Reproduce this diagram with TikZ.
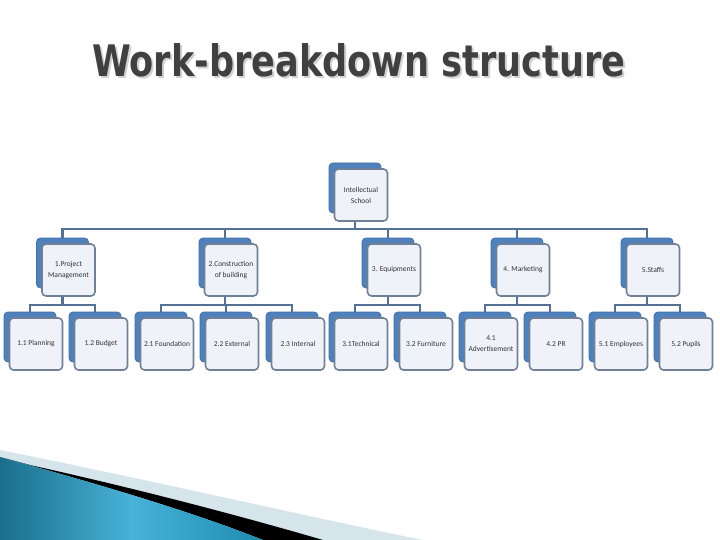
\documentclass[tikz,border=0pt]{standalone}
\usepackage{fontspec}
\setmainfont{Carlito}
\newfontfamily\titlefont{DejaVu Sans}
\usetikzlibrary{calc,backgrounds}
\definecolor{backblue}{RGB}{79,129,189}
\definecolor{backedge}{RGB}{66,110,166}
\definecolor{frontfill}{RGB}{239,243,249}
\definecolor{frontedge}{RGB}{112,128,150}
\definecolor{linkblue}{RGB}{84,112,150}
\definecolor{labelgray}{RGB}{50,50,50}
\definecolor{titlegray}{RGB}{64,64,64}
\definecolor{shadowgray}{RGB}{210,210,210}
\definecolor{stripe}{RGB}{214,228,236}
\definecolor{tealA}{RGB}{26,110,140}
\definecolor{tealB}{RGB}{72,178,216}
\definecolor{tealC}{RGB}{30,140,176}

\begin{document}
\begin{tikzpicture}[x=1pt, y=-1pt,
  back/.style={draw=backedge, fill=backblue, rounded corners=4pt, line width=0.8pt,
    minimum width=52pt, minimum height=50pt, inner sep=0pt},
  front/.style={draw=frontedge, fill=frontfill, rounded corners=4pt, line width=1.6pt,
    minimum width=53pt, minimum height=52pt, inner sep=1pt, align=center,
    text=labelgray, font=\fontsize{7.5}{11}\selectfont},
  conn/.style={draw=linkblue, line width=2.2pt}]
  \useasboundingbox (0,0) rectangle (720,540);

  % title with its shadow
  \node[anchor=base west, inner sep=0pt, text=shadowgray] (title-s) at (94,79)
    {\resizebox{533pt}{33pt}{\titlefont\bfseries Work-breakdown structure}};
  \node[anchor=base west, inner sep=0pt, text=titlegray] (title) at (92,77)
    {\resizebox{533pt}{33pt}{\titlefont\bfseries Work-breakdown structure}};

  % boxes: blue card behind, light card in front
  \foreach \n/\x/\y/\t in {
      top/355/188/{Intellectual\\School},
      pm/62.5/263/{1.Project\\Management}, cb/225/263/{2.Construction\\of building},
      eq/388/263/{3. Equipments}, mk/517/263/{4. Marketing}, st/647/263/{5.Staffs},
      pl/30/337/{1.1 Planning}, bu/95/337/{1.2 Budget},
      fo/161/337/{2.1 Foundation}, ex/226/337/{2.2 External}, in/292/337/{2.3 Internal},
      te/355/337/{3.1Technical}, fu/420/337/{3.2 Furniture},
      ad/485/337/{4.1\\Advertisement}, pr/550/337/{4.2 PR},
      em/615/337/{5.1 Employees}, pu/680/337/{5.2 Pupils}} {
    \node[back] (\n) at (\x,\y) {};
    \node[front] (\n-f) at (\x+6,\y+7) {\t};
  }

  \begin{scope}[on background layer]
    \coordinate (bus0) at (0,229);
    \coordinate (bus1) at (0,305);
    \foreach \c in {pm,cb,eq,mk,st}
      \draw[conn] (top.south) -- (top.south |- bus0) -| (\c.north);
    \foreach \p/\c in {pm/pl, pm/bu, cb/fo, cb/ex, cb/in, eq/te, eq/fu,
        mk/ad, mk/pr, st/em, st/pu}
      \draw[conn] (\p.south) -- (\p.south |- bus1) -| (\c.north);
  \end{scope}

  % corner swoosh
  \fill[stripe] (0,450) .. controls (150,480) and (300,515) .. (423,540) -- (0,540) -- cycle;
  \fill[black] (30,465) .. controls (120,485) and (220,510) .. (323,540) -- (263,540)
    .. controls (200,515) and (120,490) .. (0,457) -- cycle;
  \shade[left color=tealA, right color=tealC, middle color=tealB]
    (0,457) .. controls (120,490) and (200,515) .. (263,540) -- (0,540) -- cycle;
\end{tikzpicture}
\end{document}
